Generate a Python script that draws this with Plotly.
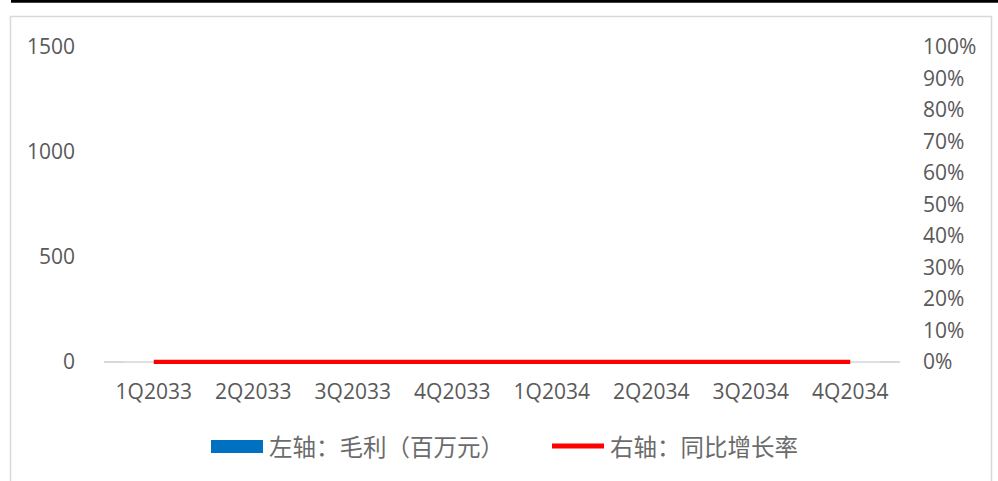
import plotly.graph_objects as go

# Quarterly categories and series
quarters = ["1Q2033", "2Q2033", "3Q2033", "4Q2033", "1Q2034", "2Q2034", "3Q2034", "4Q2034"]
gross_profit = [0, 0, 0, 0, 0, 0, 0, 0]          # 左轴：毛利（百万元）
yoy_growth = [0, 0, 0, 0, 0, 0, 0, 0]            # 右轴：同比增长率
left_ticks = [0, 500, 1000, 1500]
right_ticks = [0, 0.1, 0.2, 0.3, 0.4, 0.5, 0.6, 0.7, 0.8, 0.9, 1.0]

BAR_NAME = "左轴：毛利（百万元）"
LINE_NAME = "右轴：同比增长率"
BLUE = "#0070C0"
RED = "#FF0000"
TICK_FONT = dict(family="Open Sans, Liberation Sans, sans-serif", size=21, color="#595959")
CJK_FONT = dict(family="Noto Sans CJK SC, sans-serif", size=23.5, color="#6b6b6b")

W, H = 998, 481
ML, MR, MT, MB = 104, 98, 47, 117
pw, ph = W - ML - MR, H - MT - MB
lo = -10  # small headroom below zero so the baseline line is not clipped


def px(x):
    return (x - ML) / pw


def py(y):
    return (H - MB - y) / ph


fig = go.Figure()
fig.add_trace(go.Bar(x=quarters, y=gross_profit, name=BAR_NAME,
                     marker_color=BLUE, showlegend=False))
fig.add_trace(go.Scatter(x=quarters, y=yoy_growth, name=LINE_NAME, yaxis="y2",
                         mode="lines", line=dict(color=RED, width=4.5),
                         showlegend=False, cliponaxis=False))

shapes = [
    # outer chart border
    dict(type="rect", xref="paper", yref="paper",
         x0=px(10.5), x1=px(991.5), y0=py(490), y1=py(16.5),
         line=dict(color="#d9d9d9", width=1.5), fillcolor="rgba(0,0,0,0)", layer="below"),
    # heavy rule along the top edge
    dict(type="line", xref="paper", yref="paper",
         x0=px(11), x1=px(1000), y0=py(1.2), y1=py(1.2),
         line=dict(color="#000000", width=3)),
    # legend keys
    dict(type="rect", xref="paper", yref="paper",
         x0=px(211), x1=px(263), y0=py(453), y1=py(440),
         line=dict(width=0), fillcolor=BLUE),
    dict(type="line", xref="paper", yref="paper",
         x0=px(552), x1=px(604), y0=py(446), y1=py(446),
         line=dict(color=RED, width=5)),
]

annotations = [
    dict(xref="paper", yref="paper", x=px(267), y=py(446), xanchor="left", yanchor="middle",
         text=fig.data[0].name, showarrow=False, font=CJK_FONT),
    dict(xref="paper", yref="paper", x=px(608), y=py(446), xanchor="left", yanchor="middle",
         text=fig.data[1].name, showarrow=False, font=CJK_FONT),
]

fig.update_layout(
    width=W, height=H,
    margin=dict(l=ML, r=MR, t=MT, b=MB),
    paper_bgcolor="white", plot_bgcolor="white",
    bargap=0.4,
    showlegend=False,
    xaxis=dict(type="category", showgrid=False, showline=False, ticks="",
               tickfont=TICK_FONT, ticklabelstandoff=13),
    yaxis=dict(range=[lo, 1500], tickvals=left_ticks, showgrid=False, showline=False,
               zeroline=True, zerolinecolor="#d9d9d9", zerolinewidth=1.5,
               ticks="", tickfont=TICK_FONT, ticklabelstandoff=28),
    yaxis2=dict(overlaying="y", side="right", range=[lo / 1500, 1.0], tickvals=right_ticks,
                tickformat=".0%", showgrid=False, showline=False, zeroline=False,
                ticks="", tickfont=TICK_FONT, ticklabelstandoff=22),
    shapes=shapes,
    annotations=annotations,
)

fig.write_html("out.html")
